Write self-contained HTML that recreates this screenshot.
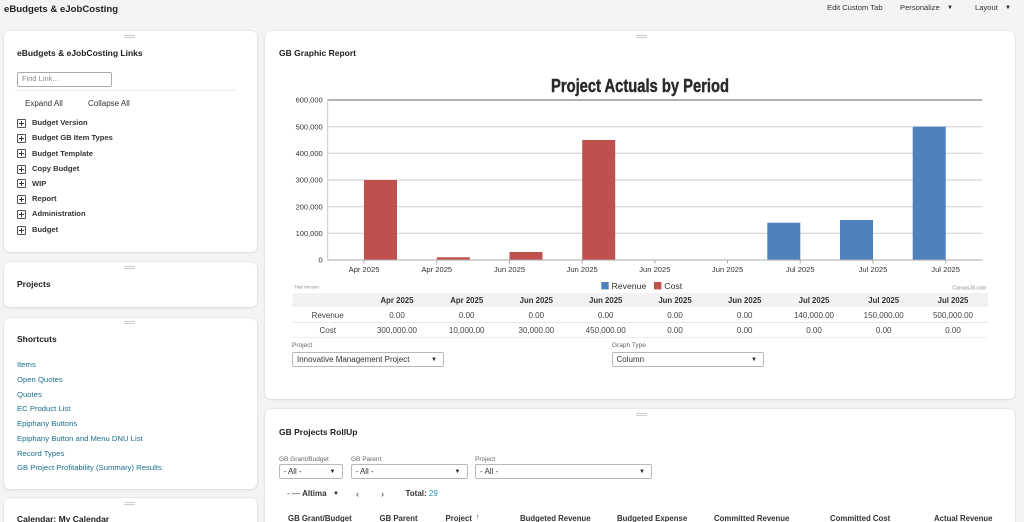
<!DOCTYPE html>
<html>
<head>
<meta charset="utf-8">
<style>
  html,body{margin:0;padding:0;width:1024px;height:522px;overflow:hidden;}
  body{background:#f5f4f2;font-family:"Liberation Sans",Arial,sans-serif;color:#2b2b2b;}
  #wrap{position:relative;width:1024px;height:522px;overflow:hidden;background:#f5f4f2;}
  .card{position:absolute;background:#fff;border-radius:6px;box-shadow:0 0 0 1px rgba(0,0,0,0.035),0 1px 3px rgba(0,0,0,0.07);}
  .h{position:absolute;height:3px;width:11px;border-top:1px solid #cfcfcf;border-bottom:1px solid #cfcfcf;box-sizing:border-box;}
  .t{position:absolute;white-space:nowrap;line-height:12px;height:12px;}
  .b{font-weight:bold;}
  .ct{font-size:8.5px;font-weight:bold;color:#1e1e1e;}
  .tree{font-size:7.6px;font-weight:bold;color:#333;}
  .pb{position:absolute;width:9px;height:9px;border:1px solid #555;border-radius:1px;box-sizing:border-box;}
  .pb:before{content:"";position:absolute;left:1px;top:3px;width:5px;height:1px;background:#333;}
  .pb:after{content:"";position:absolute;left:3px;top:1px;width:1px;height:5px;background:#333;}
  .lnk{font-size:7.7px;color:#1b6f8c;}
  .sel{position:absolute;border:1px solid #b9b9b9;border-radius:2px;background:#fff;box-sizing:border-box;}
  .sel span{position:absolute;left:4px;top:1px;font-size:8px;line-height:12px;color:#333;white-space:nowrap;}
  .sel i{position:absolute;right:6px;top:1px;font-style:normal;font-size:6px;line-height:12px;color:#222;}
  .lbl{font-size:6.5px;color:#666;}
  .th{font-size:7.8px;font-weight:bold;color:#333;}
</style>
</head>
<body>
<div id="wrap">

<!-- Top header -->
<div class="t b" style="left:4px;top:4px;font-size:9.6px;color:#1e1e1e;">eBudgets &amp; eJobCosting</div>
<div class="t" style="left:827px;top:2px;font-size:7.6px;color:#333;">Edit Custom Tab</div>
<div class="t" style="left:900px;top:2px;font-size:7.6px;color:#333;">Personalize</div>
<div class="t" style="left:947px;top:2px;font-size:6px;color:#222;">▼</div>
<div class="t" style="left:975px;top:2px;font-size:7.6px;color:#333;">Layout</div>
<div class="t" style="left:1005px;top:2px;font-size:6px;color:#222;">▼</div>

<!-- Left column cards -->
<div class="card" style="left:4px;top:31px;width:253px;height:221px;"></div>
<div class="h" style="left:124px;top:35px;"></div>
<div class="t ct" style="left:17px;top:47px;">eBudgets &amp; eJobCosting Links</div>
<div style="position:absolute;left:17px;top:72px;width:95px;height:15px;border:1px solid #aaa;border-radius:2px;box-sizing:border-box;background:#fff;"></div>
<div class="t" style="left:22px;top:73px;font-size:7.5px;color:#888;">Find Link...</div>
<div style="position:absolute;left:15px;top:90px;width:221px;height:1px;background:#ececec;"></div>
<div class="t" style="left:25px;top:98px;font-size:8px;color:#333;">Expand All</div>
<div class="t" style="left:88px;top:98px;font-size:8px;color:#333;">Collapse All</div>

<div class="pb" style="left:17px;top:118.5px;"></div><div class="t tree" style="left:32px;top:117px;">Budget Version</div>
<div class="pb" style="left:17px;top:133.5px;"></div><div class="t tree" style="left:32px;top:132px;">Budget GB Item Types</div>
<div class="pb" style="left:17px;top:149px;"></div><div class="t tree" style="left:32px;top:147.5px;">Budget Template</div>
<div class="pb" style="left:17px;top:164.5px;"></div><div class="t tree" style="left:32px;top:163px;">Copy Budget</div>
<div class="pb" style="left:17px;top:179px;"></div><div class="t tree" style="left:32px;top:177.5px;">WIP</div>
<div class="pb" style="left:17px;top:194.5px;"></div><div class="t tree" style="left:32px;top:193px;">Report</div>
<div class="pb" style="left:17px;top:209.5px;"></div><div class="t tree" style="left:32px;top:208px;">Administration</div>
<div class="pb" style="left:17px;top:225.5px;"></div><div class="t tree" style="left:32px;top:224px;">Budget</div>

<div class="card" style="left:4px;top:262px;width:253px;height:45px;"></div>
<div class="h" style="left:124px;top:266px;"></div>
<div class="t ct" style="left:17px;top:278px;">Projects</div>

<div class="card" style="left:4px;top:318px;width:253px;height:171px;"></div>
<div class="h" style="left:124px;top:321px;"></div>
<div class="t ct" style="left:17px;top:333px;">Shortcuts</div>
<div class="t lnk" style="left:17px;top:359px;">Items</div>
<div class="t lnk" style="left:17px;top:374px;">Open Quotes</div>
<div class="t lnk" style="left:17px;top:388.5px;">Quotes</div>
<div class="t lnk" style="left:17px;top:403px;">EC Product List</div>
<div class="t lnk" style="left:17px;top:418px;">Epiphany Buttons</div>
<div class="t lnk" style="left:17px;top:433px;">Epiphany Button and Menu DNU List</div>
<div class="t lnk" style="left:17px;top:447.5px;">Record Types</div>
<div class="t lnk" style="left:17px;top:462px;">GB Project Profitability (Summary) Results</div>

<div class="card" style="left:4px;top:498px;width:253px;height:40px;"></div>
<div class="h" style="left:124px;top:502px;"></div>
<div class="t ct" style="left:17px;top:513px;">Calendar: My Calendar</div>

<!-- Right column cards -->
<div class="card" style="left:265px;top:31px;width:750px;height:368px;"></div>
<div class="h" style="left:636px;top:35px;"></div>
<div class="t ct" style="left:279px;top:47px;">GB Graphic Report</div>

<div class="card" style="left:265px;top:409px;width:750px;height:130px;"></div>
<div class="h" style="left:636px;top:413px;"></div>
<div class="t ct" style="left:279px;top:425.5px;">GB Projects RollUp</div>

<!-- Chart -->
<svg style="position:absolute;left:0;top:0;" width="1024" height="522" xmlns="http://www.w3.org/2000/svg">
  <text x="640" y="92" text-anchor="middle" font-family="Liberation Sans Narrow, Liberation Sans, sans-serif" font-weight="bold" font-size="18" fill="#2a2a2a" stroke="#2a2a2a" stroke-width="0.45" textLength="178" lengthAdjust="spacingAndGlyphs">Project Actuals by Period</text>

  <g stroke="#cdcdcd" stroke-width="1">
    <line x1="327.7" y1="126.7" x2="982.3" y2="126.7"/>
    <line x1="327.7" y1="153.3" x2="982.3" y2="153.3"/>
    <line x1="327.7" y1="180" x2="982.3" y2="180"/>
    <line x1="327.7" y1="206.7" x2="982.3" y2="206.7"/>
    <line x1="327.7" y1="233.3" x2="982.3" y2="233.3"/>
  </g>
  <line x1="327.7" y1="100" x2="982.3" y2="100" stroke="#666" stroke-width="1"/>
  <line x1="327.7" y1="100" x2="327.7" y2="260" stroke="#c8c8c8" stroke-width="1"/>

  <g fill="#c0504d">
    <rect x="364" y="180" width="33" height="80"/>
    <rect x="436.8" y="257.3" width="33" height="2.7"/>
    <rect x="509.5" y="252" width="33" height="8"/>
    <rect x="582.2" y="140" width="33" height="120"/>
  </g>
  <g fill="#4f81bd">
    <rect x="767.3" y="222.7" width="33" height="37.3"/>
    <rect x="840" y="220" width="33" height="40"/>
    <rect x="912.7" y="126.7" width="33" height="133.3"/>
  </g>

  <line x1="327.7" y1="260" x2="982.3" y2="260" stroke="#aaa" stroke-width="1"/>
  <g stroke="#aaa" stroke-width="1">
    <line x1="364.05" y1="260" x2="364.05" y2="263.5"/>
    <line x1="436.75" y1="260" x2="436.75" y2="263.5"/>
    <line x1="509.45" y1="260" x2="509.45" y2="263.5"/>
    <line x1="582.15" y1="260" x2="582.15" y2="263.5"/>
    <line x1="654.85" y1="260" x2="654.85" y2="263.5"/>
    <line x1="727.55" y1="260" x2="727.55" y2="263.5"/>
    <line x1="800.25" y1="260" x2="800.25" y2="263.5"/>
    <line x1="872.95" y1="260" x2="872.95" y2="263.5"/>
    <line x1="945.65" y1="260" x2="945.65" y2="263.5"/>
  </g>

  <g font-family="Liberation Sans, sans-serif" font-size="7.5" fill="#333" text-anchor="end">
    <text x="322.7" y="102.7">600,000</text>
    <text x="322.7" y="129.4">500,000</text>
    <text x="322.7" y="156">400,000</text>
    <text x="322.7" y="182.7">300,000</text>
    <text x="322.7" y="209.4">200,000</text>
    <text x="322.7" y="236">100,000</text>
    <text x="322.7" y="262.7">0</text>
  </g>
  <g font-family="Liberation Sans, sans-serif" font-size="7.6" fill="#333" text-anchor="middle">
    <text x="364.05" y="271.8">Apr 2025</text>
    <text x="436.75" y="271.8">Apr 2025</text>
    <text x="509.45" y="271.8">Jun 2025</text>
    <text x="582.15" y="271.8">Jun 2025</text>
    <text x="654.85" y="271.8">Jun 2025</text>
    <text x="727.55" y="271.8">Jun 2025</text>
    <text x="800.25" y="271.8">Jul 2025</text>
    <text x="872.95" y="271.8">Jul 2025</text>
    <text x="945.65" y="271.8">Jul 2025</text>
  </g>

  <text x="294" y="288.5" font-family="Liberation Sans, sans-serif" font-size="4.5" fill="#888">Trial Version</text>
  <text x="986" y="289.5" text-anchor="end" font-family="Liberation Sans, sans-serif" font-size="5" fill="#888">CanvasJS.com</text>

  <rect x="601.3" y="282" width="7.4" height="7.4" fill="#4f81bd"/>
  <text x="611.5" y="288.8" font-family="Liberation Sans, sans-serif" font-size="8.7" fill="#333">Revenue</text>
  <rect x="654" y="282" width="7.4" height="7.4" fill="#c0504d"/>
  <text x="664.3" y="288.8" font-family="Liberation Sans, sans-serif" font-size="8.7" fill="#333">Cost</text>

  <rect x="292.5" y="293" width="695.5" height="14" fill="#f2f2f2"/>
  <line x1="292.5" y1="322.5" x2="988" y2="322.5" stroke="#e6e6e6"/>
  <line x1="292.5" y1="337.5" x2="988" y2="337.5" stroke="#eeeeee"/>
  <g font-family="Liberation Sans, sans-serif" font-size="7.8" font-weight="bold" fill="#333" text-anchor="middle">
    <text x="397" y="302.8">Apr 2025</text>
    <text x="466.7" y="302.8">Apr 2025</text>
    <text x="536.3" y="302.8">Jun 2025</text>
    <text x="605.7" y="302.8">Jun 2025</text>
    <text x="675" y="302.8">Jun 2025</text>
    <text x="744.7" y="302.8">Jun 2025</text>
    <text x="814" y="302.8">Jul 2025</text>
    <text x="883.7" y="302.8">Jul 2025</text>
    <text x="953" y="302.8">Jul 2025</text>
  </g>
  <g font-family="Liberation Sans, sans-serif" font-size="8" fill="#444" text-anchor="middle">
    <text x="327.7" y="317.8">Revenue</text>
    <text x="397" y="317.8">0.00</text>
    <text x="466.7" y="317.8">0.00</text>
    <text x="536.3" y="317.8">0.00</text>
    <text x="605.7" y="317.8">0.00</text>
    <text x="675" y="317.8">0.00</text>
    <text x="744.7" y="317.8">0.00</text>
    <text x="814" y="317.8">140,000.00</text>
    <text x="883.7" y="317.8">150,000.00</text>
    <text x="953" y="317.8">500,000.00</text>
    <text x="327.7" y="332.8">Cost</text>
    <text x="397" y="332.8">300,000.00</text>
    <text x="466.7" y="332.8">10,000.00</text>
    <text x="536.3" y="332.8">30,000.00</text>
    <text x="605.7" y="332.8">450,000.00</text>
    <text x="675" y="332.8">0.00</text>
    <text x="744.7" y="332.8">0.00</text>
    <text x="814" y="332.8">0.00</text>
    <text x="883.7" y="332.8">0.00</text>
    <text x="953" y="332.8">0.00</text>
  </g>
</svg>

<div class="t lbl" style="left:292px;top:340px;">Project</div>
<div class="sel" style="left:292px;top:352px;width:152px;height:15px;"><span>Innovative Management Project</span><i>▼</i></div>
<div class="t lbl" style="left:612px;top:340px;">Graph Type</div>
<div class="sel" style="left:611.5px;top:352px;width:152.5px;height:15px;"><span>Column</span><i>▼</i></div>

<div class="t lbl" style="left:279px;top:453.5px;">GB Grant/Budget</div>
<div class="t lbl" style="left:351px;top:453.5px;">GB Parent</div>
<div class="t lbl" style="left:475px;top:453.5px;">Project</div>
<div class="sel" style="left:278.5px;top:464px;width:64px;height:15px;"><span>- All -</span><i>▼</i></div>
<div class="sel" style="left:350.5px;top:464px;width:117px;height:15px;"><span>- All -</span><i>▼</i></div>
<div class="sel" style="left:475px;top:464px;width:177px;height:15px;"><span>- All -</span><i>▼</i></div>

<div class="t" style="left:287px;top:488px;font-size:8px;color:#333;">- — <b>Altima</b></div>
<div class="t" style="left:333px;top:488px;font-size:6px;color:#222;">▼</div>
<div class="t" style="left:356px;top:487.5px;font-size:9px;color:#333;">‹</div>
<div class="t" style="left:381px;top:487.5px;font-size:9px;color:#333;">›</div>
<div class="t" style="left:405.5px;top:488px;font-size:8px;color:#333;"><b>Total:</b> <span style="color:#1b8fb0;">29</span></div>

<div class="t th" style="left:288px;top:512.5px;">GB Grant/Budget</div>
<div class="t th" style="left:379.5px;top:512.5px;">GB Parent</div>
<div class="t th" style="left:445.5px;top:512.5px;">Project</div>
<div class="t" style="left:476px;top:512px;font-size:7px;color:#333;">↑</div>
<div class="t th" style="left:520px;top:512.5px;">Budgeted Revenue</div>
<div class="t th" style="left:617px;top:512.5px;">Budgeted Expense</div>
<div class="t th" style="left:714px;top:512.5px;">Committed Revenue</div>
<div class="t th" style="left:830px;top:512.5px;">Committed Cost</div>
<div class="t th" style="left:934px;top:512.5px;">Actual Revenue</div>

</div>
</body>
</html>
